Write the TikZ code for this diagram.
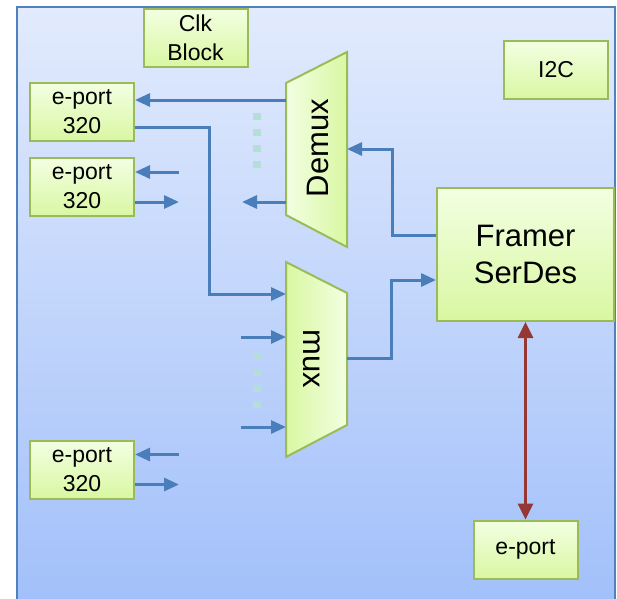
\documentclass[tikz,border=0pt]{standalone}
\usepackage{fontspec}
\setmainfont{Liberation Sans}
\usetikzlibrary{arrows.meta}
\definecolor{chipBlueTop}{HTML}{E2EBFD}
\definecolor{chipBlueBot}{HTML}{A2C0FA}
\definecolor{chipBlueLine}{HTML}{4F81BD}
\definecolor{blockTop}{HTML}{F2FFE2}
\definecolor{blockBot}{HTML}{D9F7A2}
\definecolor{blockLine}{HTML}{9BBB59}
\definecolor{linkBlue}{HTML}{4A7EBB}
\definecolor{linkRed}{HTML}{953735}
\definecolor{dotTeal}{HTML}{B5DED8}
\tikzset{
  blockbox/.style={rectangle, draw=blockLine, top color=blockTop, bottom color=blockBot, line width=2pt, align=center, font=\fontsize{23}{29}\selectfont, minimum width=104pt, minimum height=58pt, inner sep=2pt},
  bigbox/.style={blockbox, font=\fontsize{31}{37}\selectfont},
  muxshape/.style={draw=blockLine, line width=2pt},
  bigtext/.style={font=\fontsize{31}{37}\selectfont, inner sep=0pt},
  flowarrow/.style={-{Triangle[length=15pt,width=13pt]}, line width=3pt, draw=linkBlue},
  linkarrow/.style={{Triangle[length=16pt,width=15pt]}-{Triangle[length=16pt,width=15pt]}, line width=3pt, draw=linkRed},
  dotsq/.style={fill=dotTeal},
}

\begin{document}
\begin{tikzpicture}[x=1pt,y=-1pt]
  \useasboundingbox (0,0) rectangle (617,598);
  \clip (0,0) rectangle (617,598);

  % chip outline
  \shade[top color=chipBlueTop, bottom color=chipBlueBot] (17,7) rectangle (615,600);
  \draw[chipBlueLine, line width=2.5pt] (17,600) -- (17,7) -- (615,7) -- (615,600);

  \node[blockbox] (clk) at (195.5,37.5) {Clk\\Block};
  \node[blockbox] (i2c) at (556,70) {I2C};
  \node[blockbox] (epA) at (82,112) {e-port\\320};
  \node[blockbox] (epB) at (82,187) {e-port\\320};
  \node[blockbox] (epC) at (82,469.5) {e-port\\320};
  \node[bigbox, minimum width=177pt, minimum height=133pt] (framer) at (525.5,254.5) {Framer\\SerDes};
  \node[blockbox] (epD) at (525.5,549.5) {e-port};

  % demux and mux
  \shadedraw[muxshape, left color=blockTop, right color=blockBot] (286,83) -- (347,52) -- (347,247) -- (286,215) -- cycle;
  \node[bigtext, rotate=90] (demux) at (318,148) {Demux};
  \shadedraw[muxshape, left color=blockBot, right color=blockTop] (286,262) -- (347,293) -- (347,425) -- (286,457) -- cycle;
  \node[bigtext, rotate=-90] (mux) at (312,359) {mux};

  \coordinate (dmOutA) at (286,100);
  \coordinate (dmOutB) at (286,202);
  \coordinate (dmStub) at (242,202);
  \coordinate (dmIn) at (347,149);
  \coordinate (dmJoin) at (392,149);
  \coordinate (mxInA) at (286,294);
  \coordinate (mxInB) at (286,337);
  \coordinate (mxInC) at (286,427);
  \coordinate (mxStubB) at (241,337);
  \coordinate (mxStubC) at (241,427);
  \coordinate (mxOut) at (347,358);
  \coordinate (mxJoin) at (391,280);
  \coordinate (epJoin) at (209,294);

  \foreach \y in {116,132,148,164} \fill[dotsq] (253,\y-3.5) rectangle ++(8,7);
  \foreach \y in {356,372,388,404} \fill[dotsq] (253,\y-3.5) rectangle ++(8,7);

  \draw[flowarrow] (dmOutA) -- (dmOutA -| epA.east);
  \draw[flowarrow] (dmOutB) -- (dmStub);
  \draw[flowarrow] ([yshift=-15pt]epA.east) -| (epJoin) -- (mxInA);
  \draw[flowarrow] (mxStubB) -- (mxInB);
  \draw[flowarrow] (mxStubC) -- (mxInC);
  \draw[flowarrow] ([yshift=19pt]framer.west) -| (dmJoin) -- (dmIn);
  \draw[flowarrow] (mxOut) -| (mxJoin) -- (mxJoin -| framer.west);

  \draw[flowarrow] ([yshift=15pt]epB.east) ++(44,0) -- ([yshift=15pt]epB.east);
  \draw[flowarrow] ([yshift=-15pt]epB.east) -- ++(44,0);
  \draw[flowarrow] ([yshift=15pt]epC.east) ++(44,0) -- ([yshift=15pt]epC.east);
  \draw[flowarrow] ([yshift=-15pt]epC.east) -- ++(44,0);

  \draw[linkarrow] (framer) -- (epD);
\end{tikzpicture}
\end{document}
